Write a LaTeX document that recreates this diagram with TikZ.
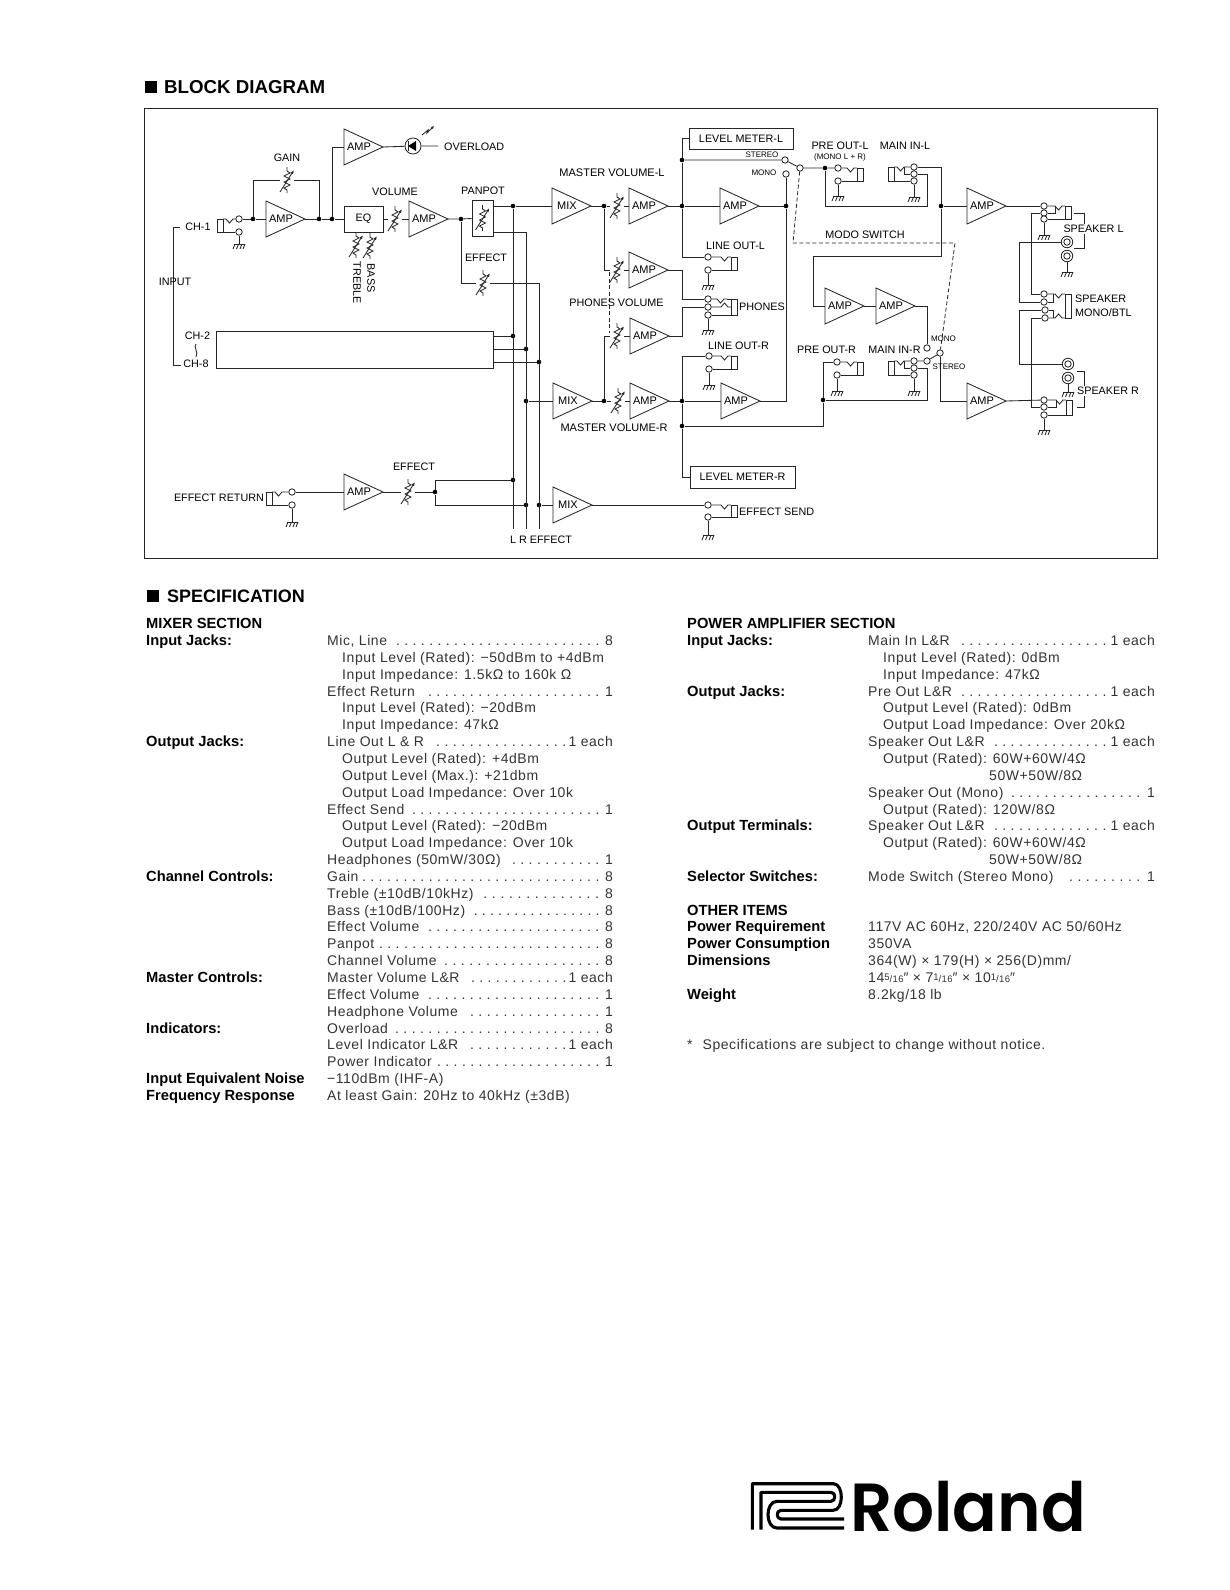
\documentclass[tikz,border=0pt]{standalone}
\usepackage{fontspec}
\setmainfont{Liberation Sans}
\newfontfamily\specfont{Liberation Sans}[LetterSpace=4]
\newfontfamily\logofont{Poppins SemiBold}
\usetikzlibrary{arrows.meta, positioning}

\begin{document}
\begin{tikzpicture}[
    x=1pt, y=-1pt,
    font=\fontsize{10.8}{12}\selectfont,
    wire/.style={line width=0.85pt, black!85},
    mode_link/.style={line width=0.8pt, black!85, dash pattern=on 4pt off 2.5pt},
    junction/.style={circle, fill=black, inner sep=0pt, minimum size=4.6pt},
    contact/.style={circle, draw=black!85, fill=white, line width=0.85pt, inner sep=0pt, minimum size=6.4pt},
    terminal/.style={circle, draw=black!85, fill=white, line width=0.85pt, inner sep=0pt, minimum size=11.5pt},
    terminal_core/.style={circle, draw=black!85, line width=0.85pt, inner sep=0pt, minimum size=6.4pt},
    pot_gap/.style={inner sep=0pt, minimum width=14pt, minimum height=3pt},
    block/.style={draw=black!85, line width=0.85pt, inner sep=0pt},
    small_label/.style={font=\fontsize{8}{9}\selectfont},
    wide_label/.style={font=\fontsize{11}{13}\selectfont},
    masked_label/.style={fill=white, inner sep=1pt},
    amp_label/.style={font=\fontsize{11}{12}\selectfont, inner sep=0pt},
    heading_mark/.style={fill=black, inner sep=0pt, minimum width=12pt, minimum height=12pt},
    heading_text/.style={anchor=west, inner sep=0pt, font=\fontsize{18.7}{22}\selectfont\bfseries},
    spec_text/.style={anchor=base west, inner sep=0pt, black!80, font=\fontsize{14}{16}\specfont},
    spec_count/.style={anchor=base east, inner sep=0pt, black!80, font=\fontsize{14}{16}\specfont},
    spec_head/.style={anchor=base west, inner sep=0pt, font=\fontsize{14.7}{16}\selectfont\bfseries},
    logo_line/.style={line width=3.1pt, line join=round}
]

\useasboundingbox (0,0) rectangle (1229,1590);

% Main signal levels
\def\yCh{219}
\def\yMastL{206}
\def\yMastR{401}

\newcommand{\drawAmp}[4]{
    % Triangle with the label sitting near its base
    \draw[wire] (#3,#4-18) -- (#3+39,#4) -- (#3,#4+18) -- cycle;
    \coordinate (#1In) at (#3,#4);
    \coordinate (#1Out) at (#3+39,#4);
    \node[amp_label] (#1) at (#3+15,#4) {#2};
}

\newcommand{\drawPot}[3]{
    \node[pot_gap] (#1) at (#2,#3) {};
    \begin{scope}[shift={(#2,#3)}]
        \draw[wire] (0,-13) -- (0,-9) -- (3,-7) -- (-3,-4) -- (3,-1) -- (-3,2) -- (3,5) -- (-3,8) -- (0,10) -- (0,13);
        \draw[wire, -{Latex[length=4pt,width=3pt]}] (-7,12) -- (7,-10);
    \end{scope}
}

\newcommand{\drawGround}[3]{
    \coordinate (#1) at (#2 |- 0,#3);
    \draw[wire] (#2) -- (#1);
    \draw[wire] ([xshift=-5.5pt]#1) -- ([xshift=5.5pt]#1);
    \draw[wire] ([xshift=-4pt]#1) -- ++(-2,5) ([xshift=-0.5pt]#1) -- ++(-2,5) ([xshift=3pt]#1) -- ++(-2,5) ([xshift=6pt]#1) -- ++(-2,5);
}

% Contact wire with its little V towards the jack body
\newcommand{\drawNotch}[5]{
    \draw[wire] (#1) -- (#2-#4*10,#3) -- (#2-#4*6.5,#3+#5) -- (#2-#4*3,#3) -- (#2,#3);
}

\newcommand{\drawJack}[6]{
    \node[contact] (#1T) at (#2,#3) {};
    \node[contact] (#1B) at (#2,#4) {};
    \draw[wire] (#5,#3) rectangle (#5+#6*6,#4);
    \drawNotch{#1T}{#5}{#3}{#6}{4}
    \draw[wire] (#1B) -- (#5,#4);
}

\newcommand{\drawJackThree}[7]{
    \node[contact] (#1T) at (#2,#3) {};
    \node[contact] (#1M) at (#2,#4) {};
    \node[contact] (#1B) at (#2,#5) {};
    \draw[wire] (#6,#3) rectangle (#6+#7*6,#5);
    \drawNotch{#1T}{#6}{#3}{#7}{4}
    \draw[wire] (#1M) -- (#6-#7*10,#4) -- (#6-#7*10,#3);
    \draw[wire] (#1B) -- (#6,#5);
}

\newcommand{\drawTerminal}[3]{
    \node[terminal] (#1) at (#2,#3) {};
    \node[terminal_core] (#1Core) at (#2,#3) {};
}

% Spec rows sit on one common grid
\def\colItem{327}
\def\colEnd{613}

\newcommand{\specText}[4]{
    \node[spec_text] (#1) at (#2,#3*16.85+645.5) {#4};
}
\newcommand{\specHead}[4]{
    \node[spec_head] (#1) at (#2,#3*16.85+645.5) {#4};
}
\newcommand{\specItem}[6]{
    \node[spec_text] (#1) at (\colItem,#2*16.85+645.5) {#3};
    \pgfmathsetlengthmacro\dotWidth{#5-#4+7}
    \node[spec_text] (#1Dots) at (#4-3.5,#2*16.85+645.5) {\hbox to \dotWidth{\xleaders\hbox to 8.1pt{\hss.\hss}\hfill}};
    \node[spec_count] (#1Count) at (\colEnd,#2*16.85+645.5) {#6};
}
\newcommand{\fracSmall}[2]{{\fontsize{9.5}{10}\selectfont\raisebox{2.5pt}{#1}/#2}}

% ==========================================
% Headings and frame
\node[heading_mark] (markBlock) at (151,87) {};
\node[heading_text] (titleBlock) at (164,87) {BLOCK DIAGRAM};
\node[block, minimum width=1013pt, minimum height=450pt] (frame) at (650.5,333) {};

% ==========================================
% Channel 1 strip
\drawJack{chOne}{239}{219}{232}{223}{-1}
\drawGround{gndChOne}{chOneB}{244}
\node[junction] (jGainL) at (253,\yCh) {};
\node[junction] (jGainR) at (319,\yCh) {};
\node[junction] (jOver) at (332,\yCh) {};
\node[junction] (jPan) at (461,\yCh) {};
\drawAmp{ampGain}{AMP}{266}{\yCh}
\drawPot{potGain}{287}{180}
\drawAmp{ampOver}{AMP}{344}{147}
\node[block, minimum width=39pt, minimum height=26pt] (eq) at (363.5,\yCh) {EQ};
\drawPot{potVol}{395}{\yCh}
\drawPot{potTreble}{356}{245}
\drawPot{potBass}{370}{246}
\drawAmp{ampVol}{AMP}{409}{\yCh}
\node[block, minimum width=21pt, minimum height=36pt] (panpot) at (482.5,218) {};
\drawPot{potPan}{482.5}{218}
\drawPot{potEff}{483}{283}
\node[circle, draw=black!85, line width=0.85pt, inner sep=0pt, minimum size=16pt] (led) at (413,146) {};
\coordinate (overEnd) at (438,146);
\draw[wire] (ampOverOut) -- (led) -- (overEnd);
\fill[black] (408,146) -- (416,141) -- (416,151) -- cycle;
\draw[wire] (408,141) -- (408,151);
\draw[wire, -{Latex[length=3pt,width=3pt]}] (422,135) -- (428,130) -- (427,133) -- (434,126);

\draw[wire] (chOneT) -- (jGainL) -- (ampGainIn);
\draw[wire] (ampGainOut) -- (jGainR) -- (jOver) -- (eq);
\draw[wire] (jGainL) |- (potGain);
\draw[wire] (potGain) -| (jGainR);
\draw[wire] (jOver) |- (ampOverIn);
\draw[wire] (eq) -- (potVol) -- (ampVolIn);
\draw[wire] (ampVolOut) -- (jPan) -- (panpot);
\draw[wire] (jPan) |- (potEff);

% Channels 2 to 8 and the input bracket
\node[block, minimum width=277pt, minimum height=37pt] (chBlock) at (354.5,349.5) {};
\coordinate (inTop) at (180,227);
\coordinate (inCornerA) at (173,227);
\coordinate (inCornerB) at (173,365);
\coordinate (inBot) at (181,365);
\draw[wire] (inTop) -- (inCornerA) -- (inCornerB) -- (inBot);

% ==========================================
% L, R and EFFECT buses
\node[junction] (jBusL) at (513,\yMastL) {};
\coordinate (panOutL) at (493,\yMastL);
\coordinate (panOutR) at (493,232);
\coordinate (busRTop) at (526,232);
\coordinate (busFxTop) at (539,283);
\coordinate (busLBot) at (513,529);
\coordinate (busRBot) at (526,529);
\coordinate (busFxBot) at (539,529);
\node[junction] (jChL) at (513,336) {};
\node[junction] (jChR) at (526,349) {};
\node[junction] (jChFx) at (539,362) {};
\node[junction] (jMixRBus) at (526,\yMastR) {};
\node[junction] (jRetL) at (513,480) {};
\node[junction] (jRetR) at (526,505) {};
\node[junction] (jFxMix) at (539,505) {};
\draw[wire] (panOutL) -- (jBusL) -- (busLBot);
\draw[wire] (panOutR) -- (busRTop) -- (busRBot);
\draw[wire] (potEff) -- (busFxTop) -- (busFxBot);
\draw[wire] (chBlock.east |- jChL) -- (jChL);
\draw[wire] (chBlock.east |- jChR) -- (jChR);
\draw[wire] (chBlock.east |- jChFx) -- (jChFx);

% ==========================================
% Master L and R
\drawAmp{mixL}{MIX}{552}{\yMastL}
\node[junction] (jMixL) at (604,\yMastL) {};
\drawPot{potMastL}{617}{\yMastL}
\drawAmp{ampMastL}{AMP}{629}{\yMastL}
\node[junction] (jOutL) at (682,\yMastL) {};
\drawAmp{ampOutL}{AMP}{720}{\yMastL}
\node[junction] (jMono) at (786,\yMastL) {};
\drawAmp{mixR}{MIX}{553}{\yMastR}
\node[junction] (jMixR) at (604,\yMastR) {};
\drawPot{potMastR}{618}{\yMastR}
\drawAmp{ampMastR}{AMP}{630}{\yMastR}
\node[junction] (jOutR) at (682,\yMastR) {};
\drawAmp{ampOutR}{AMP}{721}{\yMastR}

\draw[wire] (jBusL) -- (mixLIn);
\draw[wire] (mixLOut) -- (jMixL) -- (potMastL) -- (ampMastLIn);
\draw[wire] (ampMastLOut) -- (jOutL) -- (ampOutLIn);
\draw[wire] (ampOutLOut) -- (jMono);
\draw[wire] (jMixRBus) -- (mixRIn);
\draw[wire] (mixROut) -- (jMixR) -- (potMastR) -- (ampMastRIn);
\draw[wire] (ampMastROut) -- (jOutR) -- (ampOutRIn);
\draw[wire] (ampOutROut) -| (jMono);

% Phones
\drawPot{potPhL}{617}{270}
\drawAmp{ampPhL}{AMP}{629}{270}
\drawPot{potPhR}{617}{336}
\drawAmp{ampPhR}{AMP}{630}{336}
\coordinate (phElbowA) at (682,299);
\coordinate (phElbowB) at (682,307);
\node[contact] (phT) at (708,299) {};
\node[contact] (phM) at (708,307) {};
\node[contact] (phB) at (708,315) {};
\draw[wire] (731,299) rectangle (737,315);
\drawNotch{phT}{727}{299}{1}{4}
\draw[wire] (727,299) -- (731,299);
\drawNotch{phM}{731}{307}{1}{-4}
\draw[wire] (phB) -- (731,315);
\drawGround{gndPh}{phB}{330}
\draw[wire] (jMixL) |- (potPhL);
\draw[wire] (potPhL) -- (ampPhLIn);
\draw[wire] (jMixR) |- (potPhR);
\draw[wire] (potPhR) -- (ampPhRIn);
\draw[wire] (ampPhLOut) -| (phElbowA) -- (phT);
\draw[wire] (ampPhROut) -| (phElbowB) -- (phM);
\coordinate (phDashA) at (609,272);
\coordinate (phDashB) at (609,333);
\draw[mode_link] (phDashA) -- (phDashB);

% Level meters and line outs
\node[block, minimum width=104pt, minimum height=21pt] (levelL) at (741,138.5) {LEVEL METER-L};
\node[block, minimum width=105pt, minimum height=22pt] (levelR) at (742.5,477) {LEVEL METER-R};
\node[junction] (jMeterL) at (682,160) {};
\node[junction] (jLevelR) at (682,426) {};
\drawJack{lineL}{708}{257}{270}{731}{1}
\drawGround{gndLineL}{lineLB}{285}
\drawJack{lineR}{709}{356}{369}{731}{1}
\drawGround{gndLineR}{lineRB}{385}
\draw[wire] (levelL.west) -| (jMeterL);
\draw[wire] (jMeterL) -- (jOutL);
\draw[wire] (jOutL) |- (lineLT);
\draw[wire] (jOutR) |- (lineRT);
\draw[wire] (jOutR) -- (jLevelR);
\draw[wire] (jLevelR) |- (levelR.west);

% ==========================================
% Mode switch, pre outs and main ins
\node[contact] (swStereo) at (785,160) {};
\node[contact] (swMono) at (786,174) {};
\node[contact] (swCom) at (800,168) {};
\node[junction] (jPreL) at (825,168) {};
\drawJack{preL}{838}{168}{181}{857}{1}
\drawGround{gndPreL}{preLB}{196}
\drawJackThree{mainL}{914}{167}{174}{181}{894}{-1}
\drawGround{gndMainL}{mainLB}{197}
\node[junction] (jAmpL) at (941,\yMastL) {};
\coordinate (mainCornerL) at (927,\yMastL);
\coordinate (monoElbow) at (813,256);
\draw[wire] (jMeterL) -- (swStereo) -- (swCom) -- (jPreL) -- (preLT);
\draw[wire] (swMono) -- (jMono);
\draw[wire] (jPreL) |- (mainCornerL) |- (mainLM);
\draw[wire] (mainLT) -| (jAmpL);
\draw[wire] (jAmpL) |- (monoElbow);

\drawAmp{ampMonoA}{AMP}{825}{306}
\drawAmp{ampMonoB}{AMP}{876}{306}
\draw[wire] (monoElbow) |- (ampMonoAIn);
\draw[wire] (ampMonoAOut) -- (ampMonoBIn);
\node[contact] (swMonoR) at (927,348) {};
\node[contact] (swStereoR) at (927,361) {};
\node[contact] (swComR) at (940,353) {};
\draw[wire] (ampMonoBOut) -| (swMonoR);
\drawJackThree{mainR}{914}{361}{368}{375}{894}{-1}
\drawGround{gndMainR}{mainRB}{391}
\drawJack{preR}{837}{362}{375}{857}{1}
\drawGround{gndPreR}{preRB}{391}
\node[junction] (jPreR) at (823,400) {};
\coordinate (mainCornerR) at (927,400);
\draw[wire] (mainRT) -- (swStereoR) -- (swComR);
\draw[wire] (mainRM) -| (mainCornerR) -- (jPreR);
\draw[wire] (jPreR) |- (preRT);
\draw[wire] (jPreR) |- (jLevelR);

\coordinate (modeA) at (793,243);
\coordinate (modeB) at (955,243);
\draw[mode_link] (swCom) -- (modeA) -- (modeB) -- (swComR);

% ==========================================
% Speaker side
\drawAmp{ampSpkL}{AMP}{967}{\yMastL}
\drawAmp{ampSpkR}{AMP}{967}{\yMastR}
\draw[wire] (jAmpL) -- (ampSpkLIn);
\draw[wire] (swComR) |- (ampSpkRIn);

\drawJackThree{spkL}{1044}{206}{213}{219}{1065}{1}
\drawGround{gndSpkL}{spkLB}{235}
\drawJackThree{spkR}{1044}{400}{407}{415}{1066}{1}
\drawGround{gndSpkR}{spkRB}{430}
\draw[wire] (ampSpkLOut) -- (spkLT);
\draw[wire] (ampSpkROut) -- (spkRT);

\drawTerminal{termLA}{1067}{242}
\drawTerminal{termLB}{1067}{256}
\drawGround{gndTermL}{termLB}{272}
\drawTerminal{termRA}{1068}{364}
\drawTerminal{termRB}{1068}{378}
\drawGround{gndTermR}{termRB}{392}

\node[contact] (monoA) at (1044,294) {};
\node[contact] (monoB) at (1044,302) {};
\node[contact] (monoC) at (1045,310) {};
\node[contact] (monoD) at (1045,318) {};
\draw[wire] (1065,294) rectangle (1071,318);
\drawNotch{monoA}{1065}{294}{1}{4}
\drawNotch{monoD}{1065}{318}{1}{-4}
\draw[wire] (monoB) -- (1053,302) -- (1053,294);
\draw[wire] (monoC) -- (1053,310) -- (1053,318);

\coordinate (spkElbowA) at (1031,294);
\coordinate (spkElbowB) at (1019,302);
\coordinate (spkElbowC) at (1019,310);
\coordinate (spkElbowD) at (1031,318);
\draw[wire] (spkLM) -| (spkElbowA) -- (monoA);
\draw[wire] (termLA) -| (spkElbowB) -- (monoB);
\draw[wire] (monoC) -- (spkElbowC) |- (termRA);
\draw[wire] (monoD) -- (spkElbowD) |- (spkRM);

\coordinate (brLA) at (1074,213);
\coordinate (brLB) at (1084,213);
\coordinate (brLC) at (1084,248);
\coordinate (brLD) at (1074,248);
\draw[wire] (brLA) -- (brLB) -- (brLC) -- (brLD);
\coordinate (brRA) at (1077,371);
\coordinate (brRB) at (1084,371);
\coordinate (brRC) at (1084,407);
\coordinate (brRD) at (1077,407);
\draw[wire] (brRA) -- (brRB) -- (brRC) -- (brRD);

% ==========================================
% Effect return and send
\drawJack{fxRet}{292}{492}{505}{272}{-1}
\drawGround{gndFxRet}{fxRetB}{522}
\drawAmp{ampRet}{AMP}{344}{492}
\drawPot{potRet}{408}{492}
\node[junction] (jRet) at (435,492) {};
\drawAmp{mixFx}{MIX}{553}{505}
\drawJack{fxSend}{708}{505}{517}{731}{1}
\drawGround{gndFxSend}{fxSendB}{535}
\draw[wire] (fxRetT) -- (ampRetIn);
\draw[wire] (ampRetOut) -- (potRet) -- (jRet);
\draw[wire] (jRet) |- (jRetL);
\draw[wire] (jRet) |- (jRetR);
\draw[wire] (jFxMix) -- (mixFxIn);
\draw[wire] (mixFxOut) -- (fxSendT);

% ==========================================
% Diagram labels
\node (lblGain) at (287,158) {GAIN};
\node[anchor=west, inner sep=0pt] (lblOver) at (444,147) {OVERLOAD};
\node (lblVol) at (395,192) {VOLUME};
\node (lblPan) at (483,191) {PANPOT};
\node (lblEff) at (486,258) {EFFECT};
\node[rotate=-90] (lblTreble) at (357,283) {TREBLE};
\node[rotate=-90] (lblBass) at (371,278) {BASS};
\node (lblInput) at (175,282) {INPUT};
\node (lblChOne) at (198,227) {CH-1};
\node (lblChTwo) at (197.5,336) {CH-2};
\draw[wire] (196,344) .. controls (193,347) and (199,352) .. (196,357);
\node (lblChEight) at (196,364) {CH-8};
\node[wide_label] (lblMastL) at (612,173) {MASTER VOLUME-L};
\node[wide_label] (lblMastR) at (614,428) {MASTER VOLUME-R};
\node[small_label] (lblStereo) at (762,155) {STEREO};
\node[small_label] (lblMono) at (764,173) {MONO};
\node (lblPreL) at (840,146) {PRE OUT-L};
\node[small_label] (lblSum) at (840,157) {(MONO L + R)};
\node (lblMainL) at (905,146) {MAIN IN-L};
\node (lblMode) at (865,235) {MODO SWITCH};
\node (lblLineL) at (735.5,246) {LINE OUT-L};
\node (lblPhVol) at (616.5,303) {PHONES VOLUME};
\node[anchor=west, inner sep=0pt] (lblPhones) at (739,307) {PHONES};
\node (lblLineR) at (738.5,346) {LINE OUT-R};
\node (lblPreR) at (826.5,350) {PRE OUT-R};
\node (lblMainR) at (894.5,350) {MAIN IN-R};
\node[small_label] (lblMonoR) at (943.5,339) {MONO};
\node[small_label] (lblStereoR) at (949,367) {STEREO};
\node (lblRetFx) at (414,467) {EFFECT};
\node (lblRet) at (219,498) {EFFECT RETURN};
\node[anchor=west, inner sep=0pt] (lblSend) at (739,512) {EFFECT SEND};
\node (lblBus) at (541,540) {L R EFFECT};
\node[masked_label] (lblSpkL) at (1093.5,229) {SPEAKER L};
\node[anchor=west, inner sep=0pt] (lblSpkM) at (1075,299) {SPEAKER};
\node[anchor=west, inner sep=0pt] (lblSpkB) at (1075,313) {MONO/BTL};
\node[masked_label] (lblSpkR) at (1108,391) {SPEAKER R};

% ==========================================
% Specification, left column
\node[heading_mark] (markSpec) at (153,596) {};
\node[heading_text, font=\fontsize{18}{22}\selectfont\bfseries] (titleSpec) at (167,596) {SPECIFICATION};

\specHead{headMixer}{146}{-1}{MIXER SECTION}
\specHead{headInJack}{146}{0}{Input Jacks:}
\specHead{headOutJack}{146}{6}{Output Jacks:}
\specHead{headChan}{146}{14}{Channel Controls:}
\specHead{headMaster}{146}{20}{Master Controls:}
\specHead{headInd}{146}{23}{Indicators:}
\specHead{headNoise}{146}{26}{Input Equivalent Noise}
\specHead{headFreq}{146}{27}{Frequency Response}

\specItem{rowMic}{0}{Mic, Line}{397}{598}{8}
\specText{rowMicA}{342}{1}{Input Level (Rated): −50dBm to +4dBm}
\specText{rowMicB}{342}{2}{Input Impedance: 1.5kΩ to 160k Ω}
\specItem{rowRet}{3}{Effect Return}{429}{598}{1}
\specText{rowRetA}{342}{4}{Input Level (Rated): −20dBm}
\specText{rowRetB}{342}{5}{Input Impedance: 47kΩ}
\specItem{rowLine}{6}{Line Out L \& R}{437}{565}{1 each}
\specText{rowLineA}{342}{7}{Output Level (Rated): +4dBm}
\specText{rowLineB}{342}{8}{Output Level (Max.): +21dbm}
\specText{rowLineC}{342}{9}{Output Load Impedance: Over 10k}
\specItem{rowSend}{10}{Effect Send}{413}{598}{1}
\specText{rowSendA}{342}{11}{Output Level (Rated): −20dBm}
\specText{rowSendB}{342}{12}{Output Load Impedance: Over 10k}
\specItem{rowHead}{13}{Headphones (50mW/30Ω)}{513}{598}{1}
\specItem{rowGain}{14}{Gain}{363}{598}{8}
\specItem{rowTreble}{15}{Treble (±10dB/10kHz)}{484}{598}{8}
\specItem{rowBass}{16}{Bass (±10dB/100Hz)}{475}{598}{8}
\specItem{rowEff}{17}{Effect Volume}{429}{598}{8}
\specItem{rowPan}{18}{Panpot}{380}{598}{8}
\specItem{rowChVol}{19}{Channel Volume}{445}{598}{8}
\specItem{rowMast}{20}{Master Volume L\&R}{472}{565}{1 each}
\specItem{rowMastEff}{21}{Effect Volume}{429}{598}{1}
\specItem{rowHeadVol}{22}{Headphone Volume}{471}{598}{1}
\specItem{rowOver}{23}{Overload}{396}{598}{8}
\specItem{rowLevel}{24}{Level Indicator L\&R}{471}{565}{1 each}
\specItem{rowPower}{25}{Power Indicator}{438}{598}{1}
\specText{rowNoise}{327}{26}{−110dBm (IHF-A)}
\specText{rowFreq}{327}{27}{At least Gain: 20Hz to 40kHz (±3dB)}

% ==========================================
% Specification, right column
\def\colItem{868}
\def\colEnd{1155}

\specHead{headPower}{687}{-1}{POWER AMPLIFIER SECTION}
\specHead{headPwIn}{687}{0}{Input Jacks:}
\specHead{headPwOut}{687}{3}{Output Jacks:}
\specHead{headPwTerm}{687}{11}{Output Terminals:}
\specHead{headPwSel}{687}{14}{Selector Switches:}
\specHead{headOther}{687}{16}{OTHER ITEMS}
\specHead{headReq}{687}{17}{Power Requirement}
\specHead{headCons}{687}{18}{Power Consumption}
\specHead{headDim}{687}{19}{Dimensions}
\specHead{headWeight}{687}{21}{Weight}

\specItem{rowMainIn}{0}{Main In L\&R}{962}{1105}{1 each}
\specText{rowMainInA}{883}{1}{Input Level (Rated): 0dBm}
\specText{rowMainInB}{883}{2}{Input Impedance: 47kΩ}
\specItem{rowPreOut}{3}{Pre Out L\&R}{962}{1105}{1 each}
\specText{rowPreOutA}{883}{4}{Output Level (Rated): 0dBm}
\specText{rowPreOutB}{883}{5}{Output Load Impedance: Over 20kΩ}
\specItem{rowSpk}{6}{Speaker Out L\&R}{995}{1105}{1 each}
\specText{rowSpkA}{883}{7}{Output (Rated): 60W+60W/4Ω}
\specText{rowSpkB}{989}{8}{50W+50W/8Ω}
\specItem{rowSpkMono}{9}{Speaker Out (Mono)}{1012}{1139}{1}
\specText{rowSpkMonoA}{883}{10}{Output (Rated): 120W/8Ω}
\specItem{rowTerm}{11}{Speaker Out L\&R}{995}{1105}{1 each}
\specText{rowTermA}{883}{12}{Output (Rated): 60W+60W/4Ω}
\specText{rowTermB}{989}{13}{50W+50W/8Ω}
\specItem{rowMode}{14}{Mode Switch (Stereo Mono)}{1070}{1139}{1}
\specText{rowReq}{868}{17}{117V AC 60Hz, 220/240V AC 50/60Hz}
\specText{rowCons}{868}{18}{350VA}
\specText{rowDim}{868}{19}{364(W) × 179(H) × 256(D)mm/}
\specText{rowDimIn}{868}{20}{14\fracSmall{5}{16}″ × 7\fracSmall{1}{16}″ × 10\fracSmall{1}{16}″}
\specText{rowWeight}{868}{21}{8.2kg/18 lb}
\specText{rowNote}{687}{24}{*\hspace{10pt}Specifications are subject to change without notice.}

% ==========================================
% Logo
\draw[logo_line] (752.3,1529.7) -- (752.3,1483.7) -- (833.3,1483.7) .. controls (844,1483.7) and (844,1510.3) .. (833.3,1510.3) -- (781,1510.3) .. controls (776,1510.3) and (776,1519) .. (781,1519) -- (844,1519);
\draw[logo_line] (761,1529.7) -- (761,1492.3) -- (831,1492.3) .. controls (836,1492.3) and (836,1501.3) .. (831,1501.3) -- (777,1501.3) .. controls (765,1501.3) and (765,1528) .. (777,1528) -- (844,1528);
\node[anchor=base west, inner sep=0pt, xscale=0.97, transform shape, font=\fontsize{68}{70}\logofont] (logoText) at (850,1531) {Roland};

\end{tikzpicture}
\end{document}
